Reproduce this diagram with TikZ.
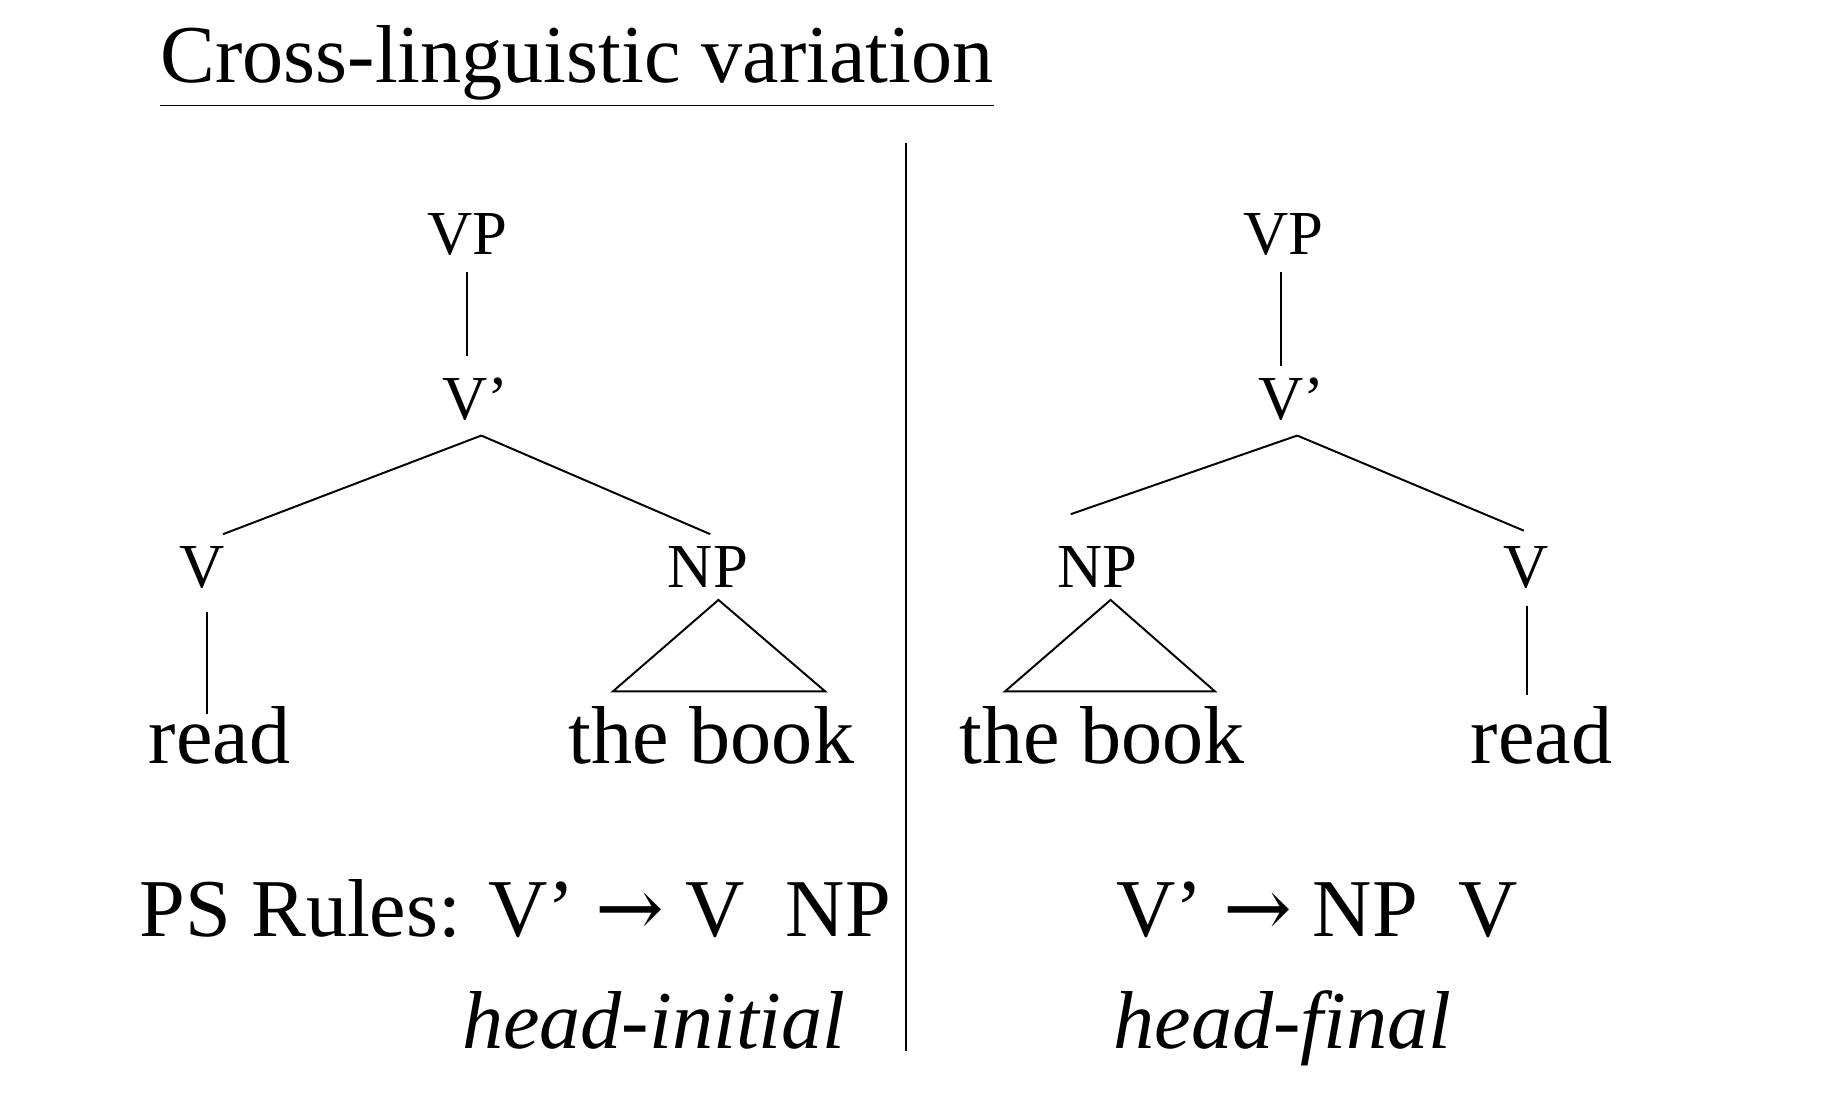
\documentclass[tikz,border=0pt]{standalone}
\usepackage{fontspec}
\setmainfont{Liberation Serif}
\newfontfamily\sym{DejaVu Serif}
\begin{document}
\begin{tikzpicture}[x=0.3pt,y=-0.3pt,
  cat/.style={font=\fontsize{16}{18}\selectfont,inner sep=0pt},
  word/.style={font=\fontsize{21}{24}\selectfont,inner sep=0pt},
  big/.style={font=\fontsize{21}{24}\selectfont,inner sep=0pt},
  edge/.style={line width=0.5pt}]
\useasboundingbox (0,0) rectangle (1552,950);
\node[big,anchor=base west] (title) at (136,70) {\underline{Cross-linguistic variation}};
\draw[line width=0.6pt] (772,122) coordinate (d1) -- (772,895) coordinate (d2);
% left tree
\node[cat] (vp1) at (398,200) {VP};
\node[cat] (vb1) at (405,340) {V’};
\node[cat] (v1) at (172,483) {V};
\node[cat] (np1) at (603,483) {NP};
\node[word] (r1) at (187,626) {read};
\node[word] (b1) at (606,626) {the book};
\draw[edge] (398,232) -- (398,303);
\draw[edge] (410,371) -- (190,455);
\draw[edge] (410,371) -- (605,455);
\draw[edge] (176,521) -- (176,608);
\draw[edge] (612,511) -- (522,589) -- (703,589) -- cycle;
% right tree
\node[cat] (vp2) at (1093,200) {VP};
\node[cat] (vb2) at (1100,340) {V’};
\node[cat] (np2) at (935,483) {NP};
\node[cat] (v2) at (1300,483) {V};
\node[word] (b2) at (939,626) {the book};
\node[word] (r2) at (1313,626) {read};
\draw[edge] (1091,232) -- (1091,312);
\draw[edge] (1105,371) -- (912,438);
\draw[edge] (1105,371) -- (1298,452);
\draw[edge] (1301,516) -- (1301,592);
\draw[edge] (946,511) -- (856,589) -- (1035,589) -- cycle;
% rules
\node[big,anchor=base west] (ps1) at (118,798) {PS Rules: V’ {\sym→} V\ \ NP};
\node[big,anchor=base west] (ps2) at (950,798) {V’ {\sym→} NP\ \ V};
\node[big,anchor=base west,font=\fontsize{21}{24}\selectfont\itshape] (h1) at (393,893) {head-initial};
\node[big,anchor=base west,font=\fontsize{21}{24}\selectfont\itshape] (h2) at (948,893) {head-final};
\end{tikzpicture}
\end{document}
